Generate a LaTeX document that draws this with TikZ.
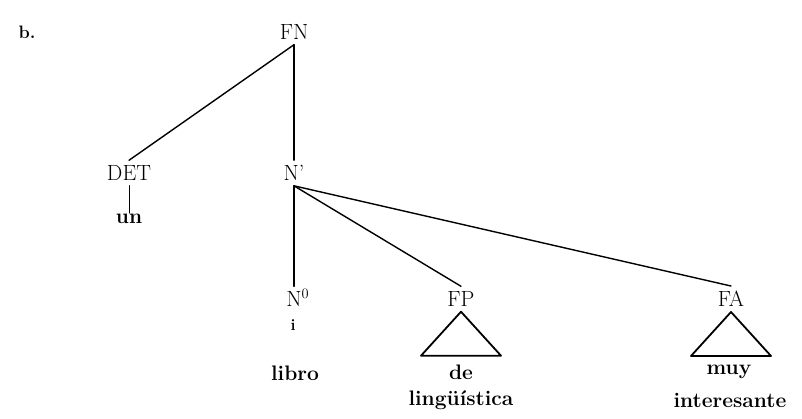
\documentclass[tikz,border=0pt]{standalone}
\usetikzlibrary{positioning, calc}

\tikzset{
  cat/.style={font=\fontsize{22}{24}\selectfont, inner sep=5pt},
  palabra/.style={font=\fontsize{21}{23}\selectfont\bfseries, inner sep=1pt},
  rama/.style={line width=1.4pt, line cap=round},
}

\begin{document}
\begin{tikzpicture}[x=1pt, y=-1pt]
  \useasboundingbox (0,0) rectangle (802,419);
  % Árbol de la FN
  \node[font=\fontsize{18}{20}\selectfont\bfseries] (letra) at (27,32) {b.};
  \node[cat] (fn) at (294,32) {FN};
  \node[cat] (det) at (129,173) {DET};
  \node[cat] (nbar) at (294,173) {N'};
  \node[palabra] (un) at (129,219) {un};
  \node[cat, inner sep=3pt] (nc) at (294,298) {N\rlap{$^{\mathrm{0}}$}};
  \node[font=\fontsize{16}{18}\selectfont\bfseries, inner sep=1pt] (ind) at (293,325) {i};
  \node[palabra] (libro) at (295,373) {libro};
  \node[cat] (fp) at (461,299) {FP};
  \node[palabra] (de) at (461,372) {de};
  \node[palabra] (ling) at (461,400) {lingüística};
  \node[cat] (fa) at (731,299) {FA};
  \node[palabra] (muy) at (729,372) {muy};
  \node[palabra] (inter) at (730,400) {interesante};

  \draw[rama] (fn.south) -- (det.north);
  \draw[rama] (fn.south) -- (nbar.north);
  \draw[rama, line width=1pt] (det.south) -- (un.north);
  \foreach \hijo in {nc, fp, fa} {
    \draw[rama] (nbar.south) -- (\hijo.north);
  }
  % triángulos
  \foreach \frase in {fp, fa} {
    \draw[rama, line width=1.8pt, line join=round] (\frase.south) -- ++(-40,44) -- ++(80,0) -- cycle;
  }
\end{tikzpicture}
\end{document}
